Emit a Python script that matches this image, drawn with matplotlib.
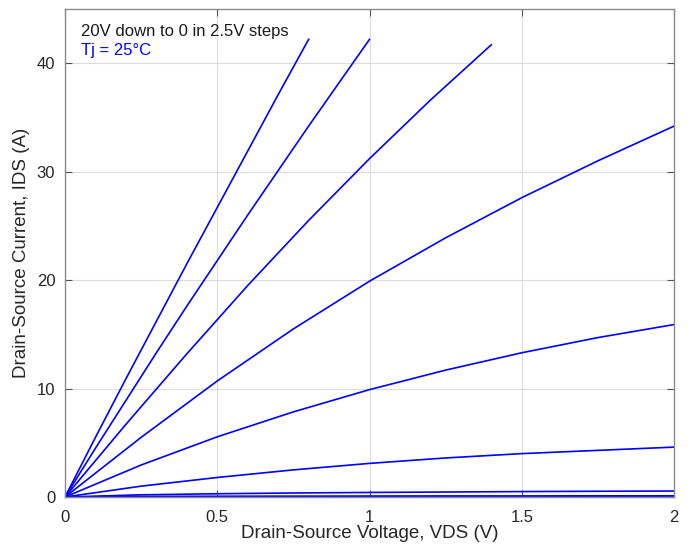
import matplotlib
matplotlib.use("Agg")
import matplotlib.pyplot as plt

plt.rcParams['font.family'] = ['Liberation Sans', 'DejaVu Sans']

# Gate-voltage curves (20V down to 0 in 2.5V steps), VDS (V) vs IDS (A)
v_20 = [0, 0.1, 0.2, 0.3, 0.4, 0.5, 0.6, 0.7, 0.8]
i_20 = [0, 5.5, 10.9, 16.2, 21.5, 26.7, 31.9, 37.1, 42.2]

v_175 = [0, 0.1, 0.2, 0.3, 0.4, 0.5, 0.6, 0.7, 0.8, 0.9, 1.0]
i_175 = [0, 4.5, 8.9, 13.3, 17.6, 21.8, 26.0, 30.1, 34.2, 38.2, 42.2]

v_15 = [0, 0.2, 0.4, 0.6, 0.8, 1.0, 1.2, 1.4]
i_15 = [0, 6.7, 13.2, 19.5, 25.5, 31.2, 36.6, 41.7]

v_low = [0, 0.25, 0.5, 0.75, 1.0, 1.25, 1.5, 1.75, 2.0]
i_125 = [0, 5.5, 10.7, 15.5, 19.9, 23.9, 27.6, 31.0, 34.2]
i_10 = [0, 2.95, 5.55, 7.85, 9.9, 11.7, 13.3, 14.7, 15.9]
i_75 = [0, 1.0, 1.8, 2.5, 3.1, 3.6, 4.0, 4.3, 4.6]
i_5 = [0, 0.2, 0.3, 0.37, 0.42, 0.46, 0.5, 0.53, 0.55]
i_25 = [0, 0.05, 0.07, 0.08, 0.09, 0.1, 0.1, 0.11, 0.11]
i_0 = [0, 0, 0, 0, 0, 0, 0, 0, 0]

x_ticks = [0, 0.5, 1, 1.5, 2]
x_tick_labels = ['0', '0.5', '1', '1.5', '2']
y_ticks = [0, 10, 20, 30, 40]

fig = plt.figure(figsize=(6.91, 5.5), dpi=100)
ax = fig.add_axes([65/691, 1-497/550, (674-65)/691, (497-9)/550])

blue = (0, 0, 1)
curves = [(v_20, i_20), (v_175, i_175), (v_15, i_15),
          (v_low, i_125), (v_low, i_10), (v_low, i_75),
          (v_low, i_5), (v_low, i_25), (v_low, i_0)]
for v, i in curves:
    ax.plot(v, i, color=blue, lw=1.2)

ax.set_xlim(0, 2)
ax.set_ylim(0, 45)
ax.set_xticks(x_ticks)
ax.set_xticklabels(x_tick_labels)
ax.set_yticks(y_ticks)
ax.grid(True, color='#dcdcdc', lw=0.8)
ax.set_axisbelow(True)

for s in ax.spines.values():
    s.set_color('#8a8a8a')
    s.set_linewidth(1.0)
ax.tick_params(direction='in', top=True, right=True, length=5,
               color='#555555', labelcolor='#262626', labelsize=12)
ax.tick_params(axis='x', pad=9)
ax.tick_params(axis='y', pad=7)

ax.set_xlabel('Drain-Source Voltage, VDS (V)', fontsize=13.5, color='#262626', labelpad=0)
ax.set_ylabel('Drain-Source Current, IDS (A)', fontsize=13.5, color='#262626', labelpad=5)

ax.text(0.026, 0.97, '20V down to 0 in 2.5V steps', transform=ax.transAxes,
        fontsize=12, color='#1a1a1a', va='top', ha='left')
ax.text(0.026, 0.93, 'Tj = 25°C', transform=ax.transAxes,
        fontsize=12, color=blue, va='top', ha='left')

fig.savefig('out.png', dpi=100)
